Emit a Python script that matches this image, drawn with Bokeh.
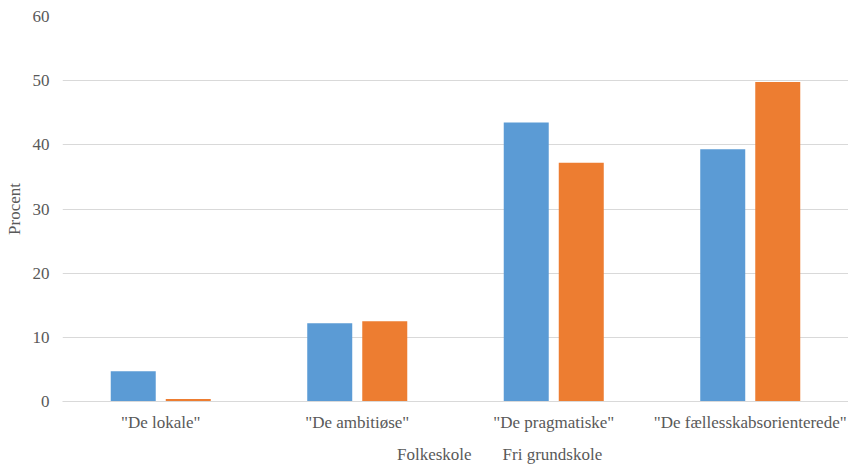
from bokeh.plotting import figure
from bokeh.layouts import column
from bokeh.models import ColumnDataSource, FactorRange, Range1d, FixedTicker, Legend, LegendItem
from bokeh.transform import dodge
from bokeh.embed import file_html
from bokeh.resources import INLINE

categories = ['"De lokale"', '"De ambitiøse"', '"De pragmatiske"', '"De fællesskabsorienterede"']
folkeskole = [4.7, 12.2, 43.5, 39.3]
fri_grundskole = [0.4, 12.5, 37.2, 49.8]
series_names = ["Folkeskole", "Fri grundskole"]
y_ticks = [0, 10, 20, 30, 40, 50, 60]

source = ColumnDataSource(data=dict(cat=categories, folk=folkeskole, fri=fri_grundskole))

FONT = "Liberation Serif"
GRAY = "#595959"
FS = "17px"
BLUE = "#5b9bd5"
ORANGE = "#ed7d31"

p = figure(x_range=FactorRange(*categories), y_range=Range1d(0, 60),
           width=848, height=440, output_backend="svg", toolbar_location=None,
           min_border_left=62, min_border_right=0, min_border_top=16, min_border_bottom=39)
p.outline_line_color = None

p.vbar(x=dodge('cat', -0.14, range=p.x_range), top='folk', width=0.229, source=source,
       fill_color=BLUE, line_color=None)
p.vbar(x=dodge('cat', 0.14, range=p.x_range), top='fri', width=0.229, source=source,
       fill_color=ORANGE, line_color=None)

p.yaxis.ticker = FixedTicker(ticks=y_ticks)
p.yaxis.axis_line_color = None
p.yaxis.major_tick_line_color = None
p.yaxis.minor_tick_line_color = None
p.yaxis.major_label_text_font = FONT
p.yaxis.major_label_text_font_size = FS
p.yaxis.major_label_text_color = GRAY
p.yaxis.major_label_standoff = 7
p.yaxis.axis_label = "Procent"
p.yaxis.axis_label_text_font = FONT
p.yaxis.axis_label_text_font_size = FS
p.yaxis.axis_label_text_font_style = "normal"
p.yaxis.axis_label_text_color = GRAY
p.yaxis.axis_label_standoff = 6

p.xaxis.axis_line_color = "#d9d9d9"
p.xaxis.axis_line_width = 1
p.xaxis.major_tick_line_color = None
p.xaxis.minor_tick_line_color = None
p.xaxis.major_label_text_font = FONT
p.xaxis.major_label_text_font_size = FS
p.xaxis.major_label_text_color = GRAY
p.xaxis.major_label_standoff = 5

p.xgrid.grid_line_color = None
p.ygrid.grid_line_color = "#d9d9d9"
p.ygrid.grid_line_width = 1

# legend strip below the chart
lf = figure(width=848, height=27, output_backend="svg", toolbar_location=None,
            x_axis_location=None, y_axis_location=None, min_border=0)
lf.outline_line_color = None
lf.xgrid.visible = False
lf.ygrid.visible = False
empty = ColumnDataSource(data=dict(x=[], top=[]))
g1 = lf.vbar(x='x', top='top', width=0.229, source=empty, fill_color=BLUE, line_color=None)
g2 = lf.vbar(x='x', top='top', width=0.229, source=empty, fill_color=ORANGE, line_color=None)

legend = Legend(items=[LegendItem(label=series_names[0], renderers=[g1]),
                       LegendItem(label=series_names[1], renderers=[g2])],
                orientation="horizontal", location=(322, 2),
                label_text_font=FONT, label_text_font_size=FS, label_text_color=GRAY,
                glyph_width=9, glyph_height=9, label_height=16, label_standoff=4, spacing=18,
                border_line_color=None, background_fill_alpha=0, padding=0, margin=0)
lf.add_layout(legend, "center")

layout = column(p, lf, spacing=0)
open("out.html", "w").write(file_html(layout, INLINE))
